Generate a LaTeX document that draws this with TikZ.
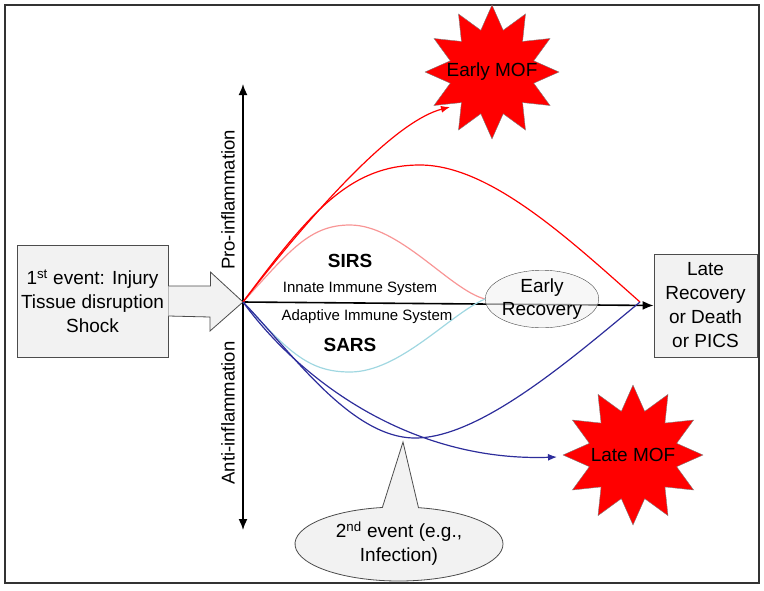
\documentclass[tikz,border=0pt]{standalone}
\usepackage{fontspec}
\setmainfont{Liberation Sans}
\usetikzlibrary{arrows.meta, shapes.geometric, shapes.callouts, positioning}
\definecolor{sirspink}{RGB}{248,150,150}
\definecolor{sarsblue}{RGB}{160,215,225}
\definecolor{antiblue}{RGB}{45,45,155}
\definecolor{boxgray}{RGB}{242,242,242}

\begin{document}
\begin{tikzpicture}[x=1pt, y=-1pt,
    box/.style = {draw=black!70, fill=boxgray, line width=0.8pt, align=center,
        font=\fontsize{19}{24}\selectfont},
    burst/.style = {star, star points=12, star point ratio=1.55, draw=black!50,
        fill=red, inner sep=0pt, font=\fontsize{19}{22}\selectfont},
    axis/.style = {line width=1.6pt},
    curve/.style = {line width=1.2pt},
    tip/.style = {-{Latex[length=9pt,width=7pt]}}]
    \useasboundingbox (0,0) rectangle (764,590);
    \draw [black!80, line width=1.2pt] (5,5) rectangle (759,583);

    \coordinate (O) at (243,302);
    \coordinate (top) at (243,84);
    \coordinate (bottom) at (243,530);
    \coordinate (meet) at (640,302);
    \coordinate (earlyend) at (450,107);
    \coordinate (lateend) at (557,457);

    % boxes
    \node (injury) [box, minimum width=151pt, minimum height=112pt] at (92.5,301)
        {1\textsuperscript{st} event: Injury\\Tissue disruption\\Shock};
    \filldraw [draw=black!70, fill=boxgray, line width=0.8pt]
        ([yshift=15pt]injury.east) -- ++(42,0) -- ++(0,-14) -- (O)
        -- ++(-33,29) -- ++(0,-14) -- ([yshift=-15pt]injury.east);
    \node (late) [box, minimum width=103pt, minimum height=103pt] at (705.5,305.5)
        {Late\\Recovery\\or Death\\or PICS};

    % MOF bursts
    \node (earlymof) [burst, minimum size=134pt] at (492,72) {\makebox[0pt]{Early MOF}};
    \node (latemof) [burst, minimum size=140pt] at (633,455) {\makebox[0pt]{Late MOF}};

    % axes
    \draw [axis, {Latex[length=11pt,width=9pt]}-{Latex[length=11pt,width=9pt]}] (top) -- (bottom);
    \draw [axis, -{Latex[length=11pt,width=9pt]}] (O) -- (late.west);
    \node (pro) [rotate=90, font=\fontsize{18.5}{20}\selectfont] at (228,200) {Pro-inflammation};
    \node (anti) [rotate=90, font=\fontsize{18.5}{20}\selectfont] at (228,413) {Anti-inflammation};

    \node (recov) [ellipse, draw=black!70, fill=boxgray, fill opacity=0.6, text opacity=1,
        minimum width=110pt, minimum height=56pt, inner sep=0pt, align=center,
        font=\fontsize{19}{23}\selectfont] at (542,299) {Early\\Recovery};

    % curves
    \draw [curve, sirspink] (O) .. controls (290,250) and (310,225) .. (350,225)
        .. controls (400,225) and (450,290) .. (recov.west);
    \draw [curve, sarsblue] (O) .. controls (290,354) and (310,372) .. (350,372)
        .. controls (400,372) and (450,314) .. (recov.west);
    \draw [curve, red] (O) .. controls (310,212) and (350,165) .. (420,165)
        .. controls (490,165) and (570,240) .. (meet);
    \draw [curve, red, tip] (O) .. controls (330,190) and (400,120) .. (earlyend);
    \draw [curve, antiblue] (O) .. controls (290,350) and (350,438) .. (415,438)
        .. controls (480,438) and (570,360) .. (meet);
    \draw [curve, antiblue, tip] (O) .. controls (300,380) and (410,462) .. (lateend);

    % texts
    \node (sirs) [font=\bfseries\fontsize{19}{21}\selectfont] at (350,261) {SIRS};
    \node (sars) [font=\bfseries\fontsize{19}{21}\selectfont] at (350,345) {SARS};
    \node (innate) [font=\fontsize{15}{17}\selectfont] at (360,289) {Innate Immune System};
    \node (adaptive) [font=\fontsize{15}{17}\selectfont] at (367,317) {Adaptive Immune System};

    \node (second) [ellipse callout, draw=black!70, fill=boxgray, line width=0.8pt,
        callout absolute pointer={(403,442)}, callout pointer arc=20,
        minimum width=208pt, minimum height=74pt, inner sep=0pt, align=center,
        font=\fontsize{19}{24}\selectfont] at (399,544) {2\textsuperscript{nd} event (e.g.,\\Infection)};
\end{tikzpicture}
\end{document}
